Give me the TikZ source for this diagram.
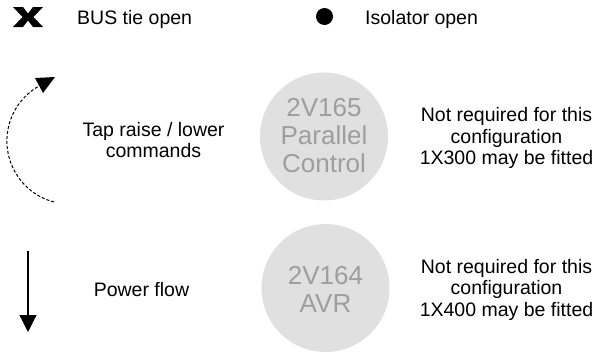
\documentclass[tikz,border=0pt]{standalone}
\usepackage{fontspec}
\setmainfont{Liberation Sans}
\usetikzlibrary{arrows.meta}
\definecolor{discfill}{RGB}{224,224,224}
\definecolor{disctext}{RGB}{158,158,158}
\begin{document}
\begin{tikzpicture}[x=1pt,y=-1pt,
  legendtext/.style={inner sep=0pt,font=\fontsize{19.5}{21.6}\selectfont,align=center},
  disc/.style={circle,fill=discfill,minimum size=128pt,inner sep=0pt},
  disclabel/.style={inner sep=0pt,text=disctext,font=\fontsize{26}{28.3}\selectfont,align=center},
  dashedarc/.style={line width=1pt,dash pattern=on 3pt off 2pt},
  flowline/.style={line width=1.2pt,-{Triangle[length=17pt,width=17pt]}}]
\useasboundingbox (0,0) rectangle (596,354);

% legend: bus tie open (heavy cross)
\fill (13,7) -- (23,7) -- (28,13.5) -- (33,7) -- (43,7) -- (33.5,17) -- (43,27)
  -- (33,27) -- (28,20.5) -- (23,27) -- (13,27) -- (22.5,17) -- cycle;
\node[legendtext,anchor=base west] (bustie) at (77,24) {BUS tie open};

% legend: isolator open (filled dot)
\fill (324.5,16.5) circle[radius=8.5];
\node[legendtext,anchor=base west] (isolator) at (365,24) {Isolator open};

% tap raise / lower: dashed arc with solid head
\draw[dashedarc] (54,202) arc[start angle=104.7,end angle=240,radius=63.1];
\fill (35,78) -- (55,77) -- (43,93) -- cycle;
\node[legendtext] (tap) at (153.5,140) {Tap raise / lower\\commands};

% power flow arrow
\coordinate (flowtop) at (28,251);
\coordinate (flowtip) at (28,332);
\draw[flowline] (flowtop) -- (flowtip);
\node[legendtext] (power) at (141.5,289.6) {Power flow};

% relay discs
\node[disc] (par) at (324,136.5) {};
\node[disclabel] (parlabel) at (324,135.5) {2V165\\Parallel\\Control};
\node[disc] (avr) at (325.5,288) {};
\node[disclabel] (avrlabel) at (325.5,289.5) {2V164\\AVR};

% notes
\node[legendtext] (note1) at (506.5,138.3) {Not required for this\\configuration\\1X300 may be fitted};
\node[legendtext] (note2) at (506.5,289.6) {Not required for this\\configuration\\1X400 may be fitted};
\end{tikzpicture}
\end{document}
